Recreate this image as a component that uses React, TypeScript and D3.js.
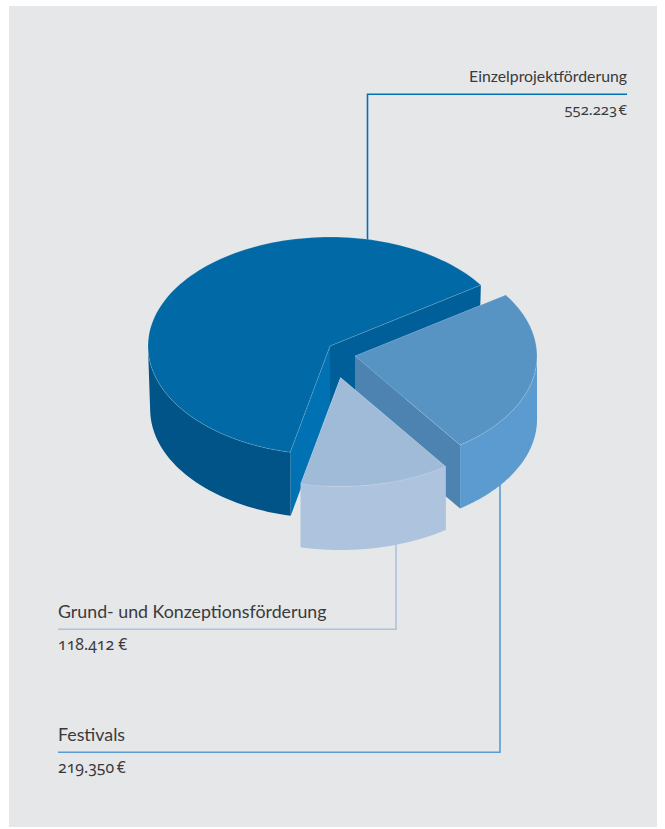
import React from "react";
import * as d3 from "d3";

const categories = ["Festivals", "Grund- und Konzeptionsförderung", "Einzelprojektförderung"];
const values = [219350, 118412, 552223];
const valueLabels = ["219.350\u2009€", "118.412 €", "552.223\u200a€"];
const topColors = ["#5793c3", "#a0bbd7", "#0069a6"];
const outerColors = ["#5b9bd0", "#adc3de", "#005488"];
const startWallColors = ["#5b9bd0", "#adc3de", "#0072b3"];
const endWallColors = ["#4d83b0", "#adc3de", "#005f99"];
const lineColors = ["#5b9bd0", "#adc3de", "#0072b3"];
const centers = [[355, 356], [340.5, 377.5], [330, 346]];
const drawOrder = [2, 0, 1];

const RX = 182, RY = 109, DEPTH = 63.5;
const START = (56 * Math.PI) / 180;
const FONT = "Lato, 'Open Sans', sans-serif";
const NUM_FONT = "'Noto Sans', 'Open Sans', sans-serif";
const TEXT = "#3a3a3c";

const arcs = d3.pie<number>().sort(null).startAngle(START).endAngle(START + 2 * Math.PI)(values);
const line = d3.line();
const pts = (p: [number, number][]) => p.map((d) => d.join(",")).join(" ");

function App() {
  const slices = drawOrder.map((i) => {
    const a = arcs[i];
    const [cx, cy] = centers[i];
    const shrink = i === 2 ? 0.988 : 1;
    const px = d3.scaleLinear().domain([-1, 1]).range([cx - RX, cx + RX]);
    const py = d3.scaleLinear().domain([-1, 1]).range([cy - RY, cy + RY]);
    const top = (t: number): [number, number] => [px(Math.sin(t)), py(-Math.cos(t))];
    const bot = (t: number): [number, number] => [px(Math.sin(t) * shrink), py(-Math.cos(t)) + DEPTH];
    const rim = d3.range(0, 121).map((k) => a.startAngle + ((a.endAngle - a.startAngle) * k) / 120);
    const front = rim.filter((t) => Math.cos(t) <= 0);
    const apex: [number, number] = [cx, cy];
    const apexB: [number, number] = [cx, cy + DEPTH];
    return {
      i,
      topPath: line([apex, ...rim.map(top)]) + "Z",
      outer: line([...front.map(top), ...front.slice().reverse().map(bot)]) + "Z",
      startWall: line([apex, top(a.startAngle), bot(a.startAngle), apexB]) + "Z",
      endWall: line([apex, top(a.endAngle), bot(a.endAngle), apexB]) + "Z",
    };
  });

  const label = (x: number, y: number, s: string, size: number, anchor: string = "start", num = false) => (
    <text
      x={x}
      y={y}
      textAnchor={anchor as any}
      fontFamily={num ? NUM_FONT : FONT}
      fontSize={size}
      fontWeight={400}
      fill={TEXT}
      style={{ fontVariantNumeric: "oldstyle-nums" }}
    >
      {s}
    </text>
  );

  return (
    <svg width={665} height={829} style={{ position: "absolute", left: 0, top: 0 }}>
      <rect x={9} y={6} width={648} height={821} fill="#e6e7e9" />
      <g fill="none" strokeWidth={1.6}>
        <polyline points={pts([[367.5, 245], [367.5, 94.3], [627, 94.3]])} stroke={lineColors[2]} />
        <polyline points={pts([[396, 540], [396, 629.3], [58, 629.3]])} stroke={lineColors[1]} />
        <polyline points={pts([[500, 480], [500, 752.3], [58, 752.3]])} stroke={lineColors[0]} />
      </g>
      {slices.map((s) => (
        <g key={s.i}>
          <path d={s.startWall} fill={startWallColors[s.i]} />
          <path d={s.endWall} fill={endWallColors[s.i]} />
          <path d={s.outer} fill={outerColors[s.i]} />
          <path d={s.topPath} fill={topColors[s.i]} stroke="#ffffff" strokeOpacity={0.3} strokeWidth={0.6} />
        </g>
      ))}
      {label(627, 82, categories[2], 15.8, "end")}
      {label(627, 115, valueLabels[2], 14.8, "end", true)}
      {label(58, 618, categories[1], 17.8)}
      {label(58, 650, valueLabels[1], 15.8, "start", true)}
      {label(58, 741, categories[0], 17.8)}
      {label(58, 773, valueLabels[0], 15.8, "start", true)}
    </svg>
  );
}

export default App;
